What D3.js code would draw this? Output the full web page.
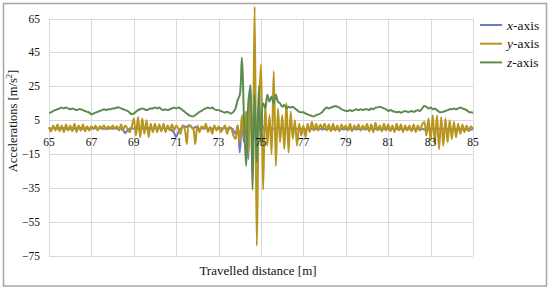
<!DOCTYPE html>
<html>
<head>
<meta charset="utf-8">
<script src="https://cdn.jsdelivr.net/npm/d3@7"></script>
<style>
  html, body { margin: 0; padding: 0; background: #fff; }
  svg text { font-family: "Liberation Serif", "DejaVu Serif", serif; }
</style>
</head>
<body>
<svg id="chart" width="550" height="291"></svg>
<script>
// ---- data ----
const distance = d3.range(0, 201).map(i => +(65 + i * 0.1).toFixed(1));
const xTicks = [65, 67, 69, 71, 73, 75, 77, 79, 81, 83, 85];
const yTicks = [65, 45, 25, 5, -15, -35, -55, -75];
const yTickLabels = ["65", "45", "25", "5", "\u221215", "\u221235", "\u221255", "\u221275"];
const seriesNames = ["x", "y", "z"];
const seriesColors = ["#7179c2", "#b8961e", "#5b8c4f"];

const xAxisAcc = [
  0.5,0,0.5,0.5,0,0.5,0,0.5,0,0.5,      // 65
  0,0.5,0,0.5,0,0.5,0,0.5,0,0,          // 66
  0.5,0,0.5,0,0.5,0,0,0.5,0,0.5,        // 67
  0,0.5,0,0.5,0,-1,-2.5,-1,0,0.5,       // 68
  0,0.5,0,-0.5,0,0.5,0,0.5,0,0,         // 69
  0.5,0,0.5,0,0.5,0,0.5,0,-1,-2.5,      // 70
  -5,-2,0,1,1.5,1,2,1.5,0,1,            // 71
  0.5,0,0.5,0,0.5,0,0.5,0,0.5,0,        // 72
  0,0.5,0,0.5,0,0,0.5,-1,-3,2,          // 73
  -14,4,-8,10,-18,26,-10,8,-4,3,        // 74
  -2,1.5,-1,0.5,0,0.5,0,0.5,0,0,        // 75
  0.5,0,0.5,0,0,0.5,0,0,0.5,0,          // 76
  0,-0.5,0,-0.5,0,-0.5,0,-0.5,0,-0.5,   // 77
  0,-0.5,0,-0.5,0,-0.5,0,-0.5,0,-0.5,   // 78
  0,-0.5,0,-0.5,0,-0.5,0,-0.5,0,-0.5,   // 79
  0,-0.5,0,-0.5,0,-0.5,0,-0.5,0,-0.5,   // 80
  0,-0.5,0,-0.5,0,-0.5,0,-0.5,0,-0.5,   // 81
  0,-0.5,0,-0.5,0,-0.5,0,-0.5,0,-0.5,   // 82
  0,-0.5,0,-0.5,0,-0.5,0,-0.5,0,-0.5,   // 83
  0,-0.5,0,-0.5,0,-0.5,0,-0.5,0,-0.5,   // 84
  0                                     // 85
];

const yAxisAcc = [
  1,-1.5,2,-1,2.5,-1.5,2,-2,2.5,-1,     // 65
  2,-1.5,3,-2,2,-1,2.5,-1.5,1.5,-1,     // 66
  1.5,0,2,-1,1.5,0.5,2,-0.5,1.5,0,      // 67
  2,0,1.5,-1,2.5,-0.5,2,0,-2,1,         // 68
  6,-4,7,-5,6,-3,5,-5,3,-2,             // 69
  3,-2,2.5,-1.5,3,-2,2,-1,2.5,-1,       // 70
  2,0,-3,2,0,-9,2,1,0,-9,               // 71
  2,-2,1.5,0,3,-2,1,-3,2,-1,            // 72
  1.5,-2,0,2,-3,1,0,-4,-6,2,            // 73
  -8,8,-5,10,-15,20,-25,72,-69,10,      // 74
  38,-36,15,-10,8,-15,34,-22,12,-8,     // 75
  8,-12,15,-14,10,-6,5,-10,3,-4,        // 76
  2,-5,3,-2,4,-1,3,-1,2.5,0,            // 77
  3,-1,2.5,-1.5,3,-1,2,-1.5,2.5,0,      // 78
  2,-1,3,-1.5,2,0,2.5,-1,2,-0.5,        // 79
  3,-1.5,2.5,-2,3.5,-1,2,-1.5,3,-1,     // 80
  2.5,-1.5,2,-2,3,-1,2.5,-2,2,-1,       // 81
  2,-1.5,2.5,-2,2,-1,2.5,4,-4,6,        // 82
  -7,8,-9,8,-12,7,-10,6,-8,5,           // 83
  -6,4,-5,3,-3,2.5,-2,2,-1.5,1.5,       // 84
  0                                     // 85
];

const zAxisAcc = [
  9.5,9.7,10.5,11,11.5,12,12.5,12,12.6,12,    // 65
  11.5,12,11.5,11,11.5,11.5,11,10.5,10,9.5,   // 66
  8.5,9,9.5,10,10.5,11,11.5,11,11.5,11.5,     // 67
  12,12,12.5,12.6,12,11.5,11,10.5,9.5,8.5,    // 68
  9,10,11,11.5,12,11.5,11,11.5,12,12,         // 69
  12.6,12,12.5,11.5,11,11.5,11,11.5,12,12.5,  // 70
  12,12.5,12,11,10,9,8,7.5,7.3,8,             // 71
  9,10,10.5,11.5,12,12.5,12,12.5,11.5,11,     // 72
  11,10.5,10,9.5,10,9.5,9,10,12,17,           // 73
  20,42,5,-22,15,25,-36,20,-20,25,            // 74
  -10,15,12,20,16,19,15,20,16,15,             // 75
  13,14,12,13,12.5,13,12,11,10,9.7,           // 76
  9.7,9,8.5,8,7.5,7.3,8,8.5,9,10,             // 77
  11.5,12.6,12,12.5,13,13.4,13,12.5,11.5,11,  // 78
  10.5,10.5,11,10.5,11,11.5,11,11.5,11,11.5,  // 79
  11.5,11,12,11.5,12.5,12.6,13,12.5,12,11.5,  // 80
  10.5,11,10.5,10,9.7,10,9.5,10,10.5,10,      // 81
  10,10.5,10,10.5,11,10.5,12,13.4,13,12,      // 82
  12.5,11.5,12,11,10,9.7,10,10.5,11,11.5,     // 83
  11.5,12,11.5,12,12.5,12,11.5,11,10,9.7,     // 84
  9.5                                         // 85
];

const seriesValues = [xAxisAcc, yAxisAcc, zAxisAcc];

// ---- drawing ----
const FONT = "'Liberation Serif', 'DejaVu Serif', serif";
const svg = d3.select("#chart");
const x = d3.scaleLinear().domain([65, 85]).range([49, 473]);
const y = d3.scaleLinear().domain([-75, 65]).range([256, 18.5]);

// outer frame
svg.append("rect").attr("x", 3.5).attr("y", 3.5).attr("width", 543).attr("height", 282.5)
  .attr("fill", "#fff").attr("stroke", "#a6a6a6").attr("stroke-width", 1.5);

// gridlines
const grid = svg.append("g").attr("stroke", "#d9d9d9").attr("stroke-width", 1);
grid.selectAll("line.h").data(yTicks).join("line")
  .attr("x1", x(65)).attr("x2", x(85))
  .attr("y1", d => Math.round(y(d)) + 0.5).attr("y2", d => Math.round(y(d)) + 0.5);
grid.selectAll("line.v").data(xTicks).join("line")
  .attr("x1", d => Math.round(x(d)) + 0.5).attr("x2", d => Math.round(x(d)) + 0.5)
  .attr("y1", y(65)).attr("y2", y(-75));

// y tick labels
svg.append("g").selectAll("text").data(yTicks).join("text")
  .attr("font-family", FONT)
  .attr("x", 40).attr("y", d => y(d)).attr("dy", "0.35em")
  .attr("text-anchor", "end").attr("font-size", 11.5).attr("fill", "#111")
  .text((d, i) => yTickLabels[i]);

// series lines
const line = d3.line().curve(d3.curveCatmullRom.alpha(0.5))
  .x((d, i) => x(distance[i])).y(d => y(d));
seriesValues.forEach((vals, k) => {
  svg.append("path").datum(vals)
    .attr("fill", "none").attr("stroke", seriesColors[k])
    .attr("stroke-width", 2).attr("stroke-linejoin", "round")
    .attr("d", line);
});

// x tick labels
svg.append("g").selectAll("text").data(xTicks).join("text")
  .attr("font-family", FONT)
  .attr("x", d => x(d)).attr("y", 142).attr("dy", "0.35em")
  .attr("text-anchor", "middle").attr("font-size", 11.5).attr("fill", "#111")
  .text(d => d);

// axis titles
const yt = svg.append("text")
  .attr("font-family", FONT)
  .attr("transform", "translate(17,121) rotate(-90)")
  .attr("text-anchor", "middle").attr("font-size", 12.5).attr("fill", "#111");
yt.append("tspan").text("Accelerations [m/s");
yt.append("tspan").attr("font-size", 8.5).attr("dy", -5).text("2");
yt.append("tspan").attr("dy", 5).text("]");

svg.append("text").attr("font-family", FONT).attr("x", 258).attr("y", 275)
  .attr("text-anchor", "middle").attr("font-size", 13).attr("fill", "#111")
  .text("Travelled distance [m]");

// legend
const lg = svg.append("g");
seriesNames.forEach((n, k) => {
  const ly = 25 + k * 18.7;
  lg.append("line").attr("x1", 480).attr("x2", 502).attr("y1", ly).attr("y2", ly)
    .attr("stroke", seriesColors[k]).attr("stroke-width", 2);
  const t = lg.append("text").attr("font-family", FONT)
    .attr("x", 507).attr("y", ly).attr("dy", "0.35em")
    .attr("font-size", 13.5).attr("fill", "#111");
  t.append("tspan").attr("font-style", "italic").text(n);
  t.append("tspan").text("-axis");
});
</script>
</body>
</html>
